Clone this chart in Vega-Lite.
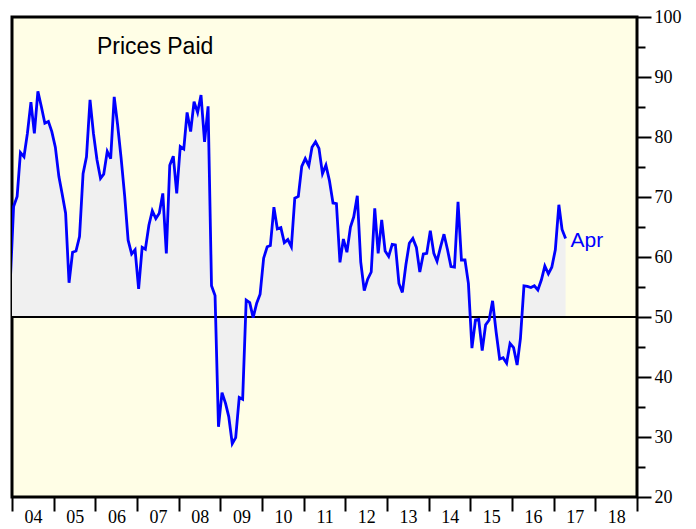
{
  "$schema": "https://vega.github.io/schema/vega-lite/v6.json",
  "width": 625,
  "height": 480,
  "autosize": {"type": "none"},
  "padding": {"left": 12, "top": 17, "right": 59, "bottom": 32},
  "background": "white",
  "config": {
    "view": {"fill": "#FFFEE6", "stroke": "black", "strokeWidth": 3},
    "axis": {"labelFont": "Liberation Serif", "labelFontSize": 18, "labelColor": "black", "tickColor": "black", "tickWidth": 2, "grid": false, "title": null}
  },
  "datasets": {
    "pp": [
      {"date": "2003-12-15", "value": 55.0},
      {"date": "2004-01-15", "value": 68.4},
      {"date": "2004-02-15", "value": 70.1},
      {"date": "2004-03-15", "value": 77.4},
      {"date": "2004-04-15", "value": 76.7},
      {"date": "2004-05-15", "value": 80.6},
      {"date": "2004-06-15", "value": 85.8},
      {"date": "2004-07-15", "value": 80.6},
      {"date": "2004-08-15", "value": 87.6},
      {"date": "2004-09-15", "value": 85.0},
      {"date": "2004-10-15", "value": 82.3},
      {"date": "2004-11-15", "value": 82.6},
      {"date": "2004-12-15", "value": 80.9},
      {"date": "2005-01-15", "value": 78.3},
      {"date": "2005-02-15", "value": 73.4},
      {"date": "2005-03-15", "value": 70.6},
      {"date": "2005-04-15", "value": 67.3},
      {"date": "2005-05-15", "value": 55.7},
      {"date": "2005-06-15", "value": 60.8},
      {"date": "2005-07-15", "value": 61.0},
      {"date": "2005-08-15", "value": 63.4},
      {"date": "2005-09-15", "value": 73.9},
      {"date": "2005-10-15", "value": 76.7},
      {"date": "2005-11-15", "value": 86.2},
      {"date": "2005-12-15", "value": 80.6},
      {"date": "2006-01-15", "value": 76.2},
      {"date": "2006-02-15", "value": 73.1},
      {"date": "2006-03-15", "value": 73.8},
      {"date": "2006-04-15", "value": 77.6},
      {"date": "2006-05-15", "value": 76.4},
      {"date": "2006-06-15", "value": 86.7},
      {"date": "2006-07-15", "value": 82.0},
      {"date": "2006-08-15", "value": 76.4},
      {"date": "2006-09-15", "value": 70.1},
      {"date": "2006-10-15", "value": 62.8},
      {"date": "2006-11-15", "value": 60.5},
      {"date": "2006-12-15", "value": 61.2},
      {"date": "2007-01-15", "value": 54.7},
      {"date": "2007-02-15", "value": 61.6},
      {"date": "2007-03-15", "value": 61.3},
      {"date": "2007-04-15", "value": 65.3},
      {"date": "2007-05-15", "value": 67.7},
      {"date": "2007-06-15", "value": 66.4},
      {"date": "2007-07-15", "value": 67.3},
      {"date": "2007-08-15", "value": 70.6},
      {"date": "2007-09-15", "value": 60.6},
      {"date": "2007-10-15", "value": 75.3},
      {"date": "2007-11-15", "value": 76.8},
      {"date": "2007-12-15", "value": 70.6},
      {"date": "2008-01-15", "value": 78.4},
      {"date": "2008-02-15", "value": 78.0},
      {"date": "2008-03-15", "value": 84.1},
      {"date": "2008-04-15", "value": 80.9},
      {"date": "2008-05-15", "value": 85.9},
      {"date": "2008-06-15", "value": 84.1},
      {"date": "2008-07-15", "value": 87.0},
      {"date": "2008-08-15", "value": 79.2},
      {"date": "2008-09-15", "value": 85.1},
      {"date": "2008-10-15", "value": 55.2},
      {"date": "2008-11-15", "value": 53.6},
      {"date": "2008-12-15", "value": 31.7},
      {"date": "2009-01-15", "value": 37.4},
      {"date": "2009-02-15", "value": 35.6},
      {"date": "2009-03-15", "value": 33.4},
      {"date": "2009-04-15", "value": 28.9},
      {"date": "2009-05-15", "value": 29.9},
      {"date": "2009-06-15", "value": 36.6},
      {"date": "2009-07-15", "value": 36.3},
      {"date": "2009-08-15", "value": 52.8},
      {"date": "2009-09-15", "value": 52.4},
      {"date": "2009-10-15", "value": 49.9},
      {"date": "2009-11-15", "value": 52.3},
      {"date": "2009-12-15", "value": 53.8},
      {"date": "2010-01-15", "value": 59.8},
      {"date": "2010-02-15", "value": 61.7},
      {"date": "2010-03-15", "value": 61.9},
      {"date": "2010-04-15", "value": 68.3},
      {"date": "2010-05-15", "value": 64.7},
      {"date": "2010-06-15", "value": 64.9},
      {"date": "2010-07-15", "value": 62.4},
      {"date": "2010-08-15", "value": 62.9},
      {"date": "2010-09-15", "value": 61.7},
      {"date": "2010-10-15", "value": 69.8},
      {"date": "2010-11-15", "value": 70.1},
      {"date": "2010-12-15", "value": 75.1},
      {"date": "2011-01-15", "value": 76.4},
      {"date": "2011-02-15", "value": 75.2},
      {"date": "2011-03-15", "value": 78.3},
      {"date": "2011-04-15", "value": 79.2},
      {"date": "2011-05-15", "value": 78.1},
      {"date": "2011-06-15", "value": 73.9},
      {"date": "2011-07-15", "value": 75.3},
      {"date": "2011-08-15", "value": 72.7},
      {"date": "2011-09-15", "value": 69.0},
      {"date": "2011-10-15", "value": 68.9},
      {"date": "2011-11-15", "value": 59.1},
      {"date": "2011-12-15", "value": 63.0},
      {"date": "2012-01-15", "value": 60.8},
      {"date": "2012-02-15", "value": 65.0},
      {"date": "2012-03-15", "value": 66.7},
      {"date": "2012-04-15", "value": 70.2},
      {"date": "2012-05-15", "value": 59.2},
      {"date": "2012-06-15", "value": 54.4},
      {"date": "2012-07-15", "value": 56.3},
      {"date": "2012-08-15", "value": 57.5},
      {"date": "2012-09-15", "value": 68.1},
      {"date": "2012-10-15", "value": 60.6},
      {"date": "2012-11-15", "value": 66.2},
      {"date": "2012-12-15", "value": 61.0},
      {"date": "2013-01-15", "value": 60.1},
      {"date": "2013-02-15", "value": 62.1},
      {"date": "2013-03-15", "value": 62.0},
      {"date": "2013-04-15", "value": 55.6},
      {"date": "2013-05-15", "value": 54.1},
      {"date": "2013-06-15", "value": 58.7},
      {"date": "2013-07-15", "value": 62.3},
      {"date": "2013-08-15", "value": 63.1},
      {"date": "2013-09-15", "value": 61.6},
      {"date": "2013-10-15", "value": 57.5},
      {"date": "2013-11-15", "value": 60.5},
      {"date": "2013-12-15", "value": 60.6},
      {"date": "2014-01-15", "value": 64.4},
      {"date": "2014-02-15", "value": 60.6},
      {"date": "2014-03-15", "value": 59.3},
      {"date": "2014-04-15", "value": 61.7},
      {"date": "2014-05-15", "value": 63.8},
      {"date": "2014-06-15", "value": 61.2},
      {"date": "2014-07-15", "value": 58.4},
      {"date": "2014-08-15", "value": 58.3},
      {"date": "2014-09-15", "value": 69.2},
      {"date": "2014-10-15", "value": 59.5},
      {"date": "2014-11-15", "value": 59.5},
      {"date": "2014-12-15", "value": 55.6},
      {"date": "2015-01-15", "value": 44.8},
      {"date": "2015-02-15", "value": 49.5},
      {"date": "2015-03-15", "value": 49.6},
      {"date": "2015-04-15", "value": 44.4},
      {"date": "2015-05-15", "value": 48.7},
      {"date": "2015-06-15", "value": 49.5},
      {"date": "2015-07-15", "value": 52.7},
      {"date": "2015-08-15", "value": 47.5},
      {"date": "2015-09-15", "value": 43.0},
      {"date": "2015-10-15", "value": 43.2},
      {"date": "2015-11-15", "value": 42.3},
      {"date": "2015-12-15", "value": 45.6},
      {"date": "2016-01-15", "value": 44.9},
      {"date": "2016-02-15", "value": 42.0},
      {"date": "2016-03-15", "value": 46.4},
      {"date": "2016-04-15", "value": 55.2},
      {"date": "2016-05-15", "value": 55.1},
      {"date": "2016-06-15", "value": 54.9},
      {"date": "2016-07-15", "value": 55.2},
      {"date": "2016-08-15", "value": 54.5},
      {"date": "2016-09-15", "value": 56.2},
      {"date": "2016-10-15", "value": 58.5},
      {"date": "2016-11-15", "value": 57.2},
      {"date": "2016-12-15", "value": 58.3},
      {"date": "2017-01-15", "value": 61.2},
      {"date": "2017-02-15", "value": 68.7},
      {"date": "2017-03-15", "value": 64.6},
      {"date": "2017-04-15", "value": 63.1}
    ]
  },
  "data": {"name": "pp"},
  "encoding": {
    "x": {
      "field": "date",
      "type": "temporal",
      "scale": {"type": "utc", "domain": [{"year": 2004, "month": 1, "date": 1, "utc": true}, {"year": 2019, "month": 1, "date": 1, "utc": true}]},
      "axis": {
        "orient": "bottom",
        "domain": false,
        "values": [
          {"year": 2004, "month": 1, "date": 1, "utc": true},
          {"year": 2005, "month": 1, "date": 1, "utc": true},
          {"year": 2006, "month": 1, "date": 1, "utc": true},
          {"year": 2007, "month": 1, "date": 1, "utc": true},
          {"year": 2008, "month": 1, "date": 1, "utc": true},
          {"year": 2009, "month": 1, "date": 1, "utc": true},
          {"year": 2010, "month": 1, "date": 1, "utc": true},
          {"year": 2011, "month": 1, "date": 1, "utc": true},
          {"year": 2012, "month": 1, "date": 1, "utc": true},
          {"year": 2013, "month": 1, "date": 1, "utc": true},
          {"year": 2014, "month": 1, "date": 1, "utc": true},
          {"year": 2015, "month": 1, "date": 1, "utc": true},
          {"year": 2016, "month": 1, "date": 1, "utc": true},
          {"year": 2017, "month": 1, "date": 1, "utc": true},
          {"year": 2018, "month": 1, "date": 1, "utc": true},
          {"year": 2019, "month": 1, "date": 1, "utc": true}
        ],
        "labelExpr": "utcFormat(datum.value, '%Y') == '2019' ? '' : utcFormat(datum.value, '%y')",
        "labelOffset": 21,
        "labelAlign": "center",
        "labelOverlap": false,
        "labelBound": false,
        "labelFlush": false,
        "tickSize": 14,
        "labelPadding": -3
      }
    },
    "y": {
      "field": "value",
      "type": "quantitative",
      "scale": {"domain": [20, 100], "nice": false, "zero": false},
      "axis": {
        "orient": "right",
        "domain": false,
        "values": [20, 25, 30, 35, 40, 45, 50, 55, 60, 65, 70, 75, 80, 85, 90, 95, 100],
        "labelExpr": "datum.value % 10 == 0 ? datum.label : ''",
        "tickSize": {"condition": {"test": "datum.value % 10 != 0", "value": 8}, "value": 14},
        "labelPadding": 3,
        "labelOverlap": false,
        "labelBaseline": "middle"
      }
    }
  },
  "layer": [
    {
      "mark": {"type": "area", "color": "#F0F0F0", "clip": true},
      "encoding": {"y2": {"datum": 50}}
    },
    {
      "mark": {"type": "rule", "color": "black", "strokeWidth": 1},
      "encoding": {"x": null, "y": {"datum": 50}}
    },
    {
      "mark": {"type": "line", "color": "#0000FF", "strokeWidth": 2.8, "clip": true}
    },
    {
      "transform": [{"filter": "utcyear(datum.date) == 2017 && utcmonth(datum.date) == 3"}],
      "mark": {"type": "text", "text": "Apr", "color": "#0000FF", "font": "Liberation Sans", "fontSize": 21, "align": "left", "baseline": "middle", "dx": 5, "dy": 3}
    },
    {
      "transform": [{"filter": "utcyear(datum.date) == 2006 && utcmonth(datum.date) == 0"}],
      "mark": {"type": "text", "text": "Prices Paid", "color": "black", "font": "Liberation Sans", "fontSize": 23, "align": "left", "baseline": "middle"},
      "encoding": {"y": {"datum": 95}}
    }
  ]
}
